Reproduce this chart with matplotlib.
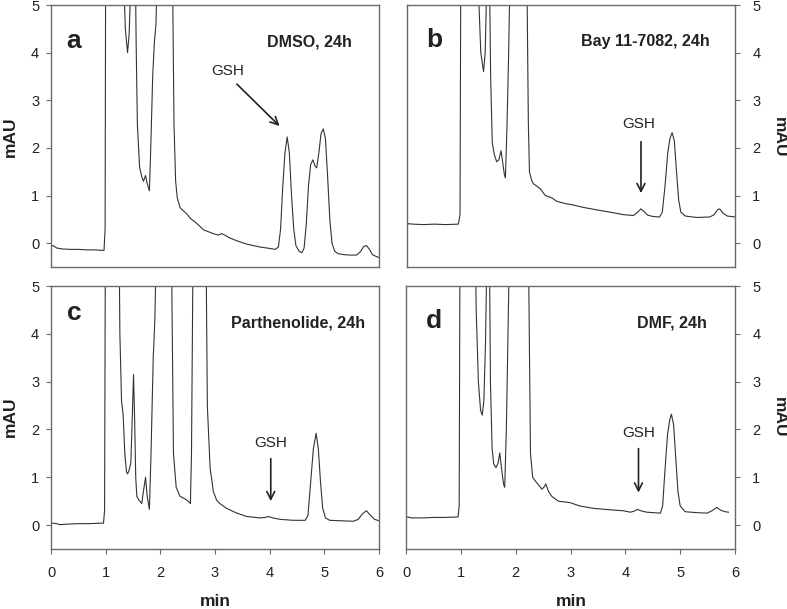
import matplotlib
matplotlib.use("Agg")
import matplotlib.pyplot as plt

plt.rcParams['font.family'] = ['Liberation Sans', 'DejaVu Sans']

# ---- data (time in min, absorbance in mAU; values >5 are off-scale) ----
t_a = [0.00, 0.04, 0.10, 0.20, 0.35, 0.50, 0.65, 0.80, 0.93, 0.97, 0.99, 1.01, 1.20, 1.30, 1.33, 1.36, 1.40, 1.43,
       1.46, 1.50, 1.54, 1.56, 1.58, 1.62, 1.66, 1.69, 1.73, 1.76, 1.80, 1.83, 1.86, 1.89, 1.92, 1.95, 2.00, 2.15,
       2.22, 2.25, 2.28, 2.31, 2.36, 2.42, 2.48, 2.55, 2.63, 2.70, 2.79, 2.88, 2.97, 3.06, 3.12, 3.18, 3.27, 3.40,
       3.58, 3.82, 4.00, 4.10, 4.16, 4.20, 4.24, 4.28, 4.32, 4.36, 4.40, 4.44, 4.48, 4.54, 4.59, 4.63, 4.67, 4.71,
       4.75, 4.79, 4.83, 4.86, 4.90, 4.94, 4.98, 5.02, 5.06, 5.10, 5.14, 5.19, 5.25, 5.35, 5.47, 5.59, 5.66, 5.72,
       5.77, 5.82, 5.88, 5.95, 6.00]
y_a = [-0.07, -0.05, -0.10, -0.12, -0.13, -0.13, -0.14, -0.14, -0.15, -0.15, 0.3, 12, 40, 8, 5.5, 4.5, 4.0, 4.4,
       5.5, 12, 6, 4.0, 2.5, 1.6, 1.4, 1.3, 1.42, 1.25, 1.1, 2.2, 3.5, 4.2, 4.6, 6, 20, 20,
       6, 2.5, 1.3, 0.95, 0.75, 0.68, 0.62, 0.52, 0.45, 0.38, 0.28, 0.24, 0.20, 0.17, 0.20, 0.17, 0.11, 0.05,
       -0.02, -0.08, -0.11, -0.13, -0.08, 0.3, 1.2, 1.9, 2.23, 1.9, 1.0, 0.3, -0.05, -0.17, -0.2, -0.1, 0.4, 1.2,
       1.65, 1.75, 1.62, 1.58, 1.9, 2.3, 2.40, 2.2, 1.4, 0.5, 0.0, -0.17, -0.22, -0.24, -0.25, -0.25, -0.18, -0.07,
       -0.05, -0.12, -0.24, -0.28, -0.30]

t_b = [0.00, 0.02, 0.10, 0.30, 0.50, 0.70, 0.94, 0.97, 0.99, 1.10, 1.28, 1.31, 1.35, 1.40, 1.43, 1.46, 1.49, 1.51,
       1.53, 1.56, 1.60, 1.64, 1.68, 1.72, 1.75, 1.78, 1.80, 1.83, 1.86, 1.89, 1.95, 2.15, 2.19, 2.22, 2.24, 2.28,
       2.31, 2.37, 2.44, 2.53, 2.58, 2.65, 2.74, 2.90, 3.05, 3.23, 3.47, 3.72, 3.96, 4.14, 4.20, 4.28, 4.34, 4.40,
       4.50, 4.62, 4.67, 4.72, 4.77, 4.81, 4.85, 4.89, 4.93, 4.97, 5.01, 5.09, 5.30, 5.54, 5.62, 5.68, 5.72, 5.78,
       5.86, 6.00]
y_b = [0.36, 0.41, 0.40, 0.39, 0.40, 0.39, 0.40, 0.6, 8, 40, 7, 5.2, 4.0, 3.6, 4.0, 5.5, 12, 5.5,
       3.5, 2.1, 1.85, 1.71, 1.75, 1.94, 1.7, 1.45, 1.37, 2.5, 4.0, 6, 20, 20, 6, 2.5, 1.5, 1.32,
       1.25, 1.20, 1.14, 1.00, 0.98, 0.95, 0.88, 0.83, 0.80, 0.75, 0.70, 0.65, 0.60, 0.58, 0.63, 0.72, 0.66, 0.59,
       0.56, 0.55, 0.65, 1.2, 1.9, 2.2, 2.32, 2.15, 1.5, 0.9, 0.65, 0.57, 0.54, 0.55, 0.6, 0.7, 0.72, 0.63,
       0.57, 0.55]

t_c = [0.00, 0.03, 0.10, 0.16, 0.30, 0.50, 0.70, 0.90, 0.96, 0.98, 1.00, 1.10, 1.23, 1.26, 1.29, 1.32, 1.35, 1.38,
       1.40, 1.43, 1.46, 1.48, 1.51, 1.53, 1.55, 1.57, 1.61, 1.66, 1.69, 1.73, 1.76, 1.80, 1.83, 1.87, 1.90, 1.93,
       2.00, 2.17, 2.21, 2.24, 2.29, 2.36, 2.45, 2.51, 2.55, 2.57, 2.60, 2.70, 2.82, 2.86, 2.91, 2.97, 3.03, 3.09,
       3.21, 3.40, 3.58, 3.82, 3.92, 3.98, 4.06, 4.19, 4.43, 4.65, 4.70, 4.75, 4.80, 4.85, 4.89, 4.93, 4.97, 5.02,
       5.10, 5.30, 5.53, 5.62, 5.70, 5.77, 5.83, 5.92, 6.00]
y_c = [0.03, 0.04, 0.03, 0.01, 0.02, 0.03, 0.03, 0.04, 0.04, 0.3, 8, 40, 8, 4.0, 2.6, 2.3, 1.5, 1.12,
       1.07, 1.15, 1.3, 2.0, 3.15, 2.2, 1.0, 0.6, 0.52, 0.45, 0.7, 1.0, 0.6, 0.33, 1.5, 3.5, 4.3, 6,
       20, 20, 5, 1.5, 0.79, 0.6, 0.55, 0.5, 0.45, 1.5, 6, 30, 8, 2.5, 1.2, 0.7, 0.52, 0.45,
       0.35, 0.25, 0.18, 0.15, 0.16, 0.18, 0.15, 0.12, 0.10, 0.10, 0.2, 0.9, 1.6, 1.92, 1.6, 0.9, 0.35, 0.15,
       0.10, 0.09, 0.08, 0.12, 0.24, 0.30, 0.22, 0.12, 0.09]

t_d = [0.00, 0.02, 0.10, 0.30, 0.50, 0.70, 0.95, 0.97, 0.99, 1.10, 1.25, 1.28, 1.32, 1.36, 1.39, 1.42, 1.45, 1.48,
       1.50, 1.52, 1.54, 1.57, 1.60, 1.64, 1.68, 1.71, 1.74, 1.78, 1.80, 1.83, 1.86, 1.89, 1.95, 2.20, 2.24, 2.27,
       2.31, 2.36, 2.41, 2.48, 2.52, 2.55, 2.60, 2.66, 2.78, 2.99, 3.17, 3.42, 3.72, 3.96, 4.09, 4.16, 4.22, 4.28,
       4.39, 4.64, 4.68, 4.72, 4.77, 4.81, 4.84, 4.88, 4.92, 4.96, 5.00, 5.09, 5.30, 5.49, 5.58, 5.67, 5.74, 5.82,
       5.88]
y_d = [0.15, 0.17, 0.15, 0.15, 0.16, 0.16, 0.17, 0.4, 8, 40, 7, 4.5, 3.0, 2.4, 2.3, 2.6, 3.8, 6,
       12, 6, 3.0, 1.6, 1.28, 1.2, 1.3, 1.51, 1.2, 0.85, 0.79, 2.0, 4.0, 6, 20, 20, 5, 1.5,
       1.0, 0.92, 0.85, 0.75, 0.8, 0.86, 0.7, 0.6, 0.5, 0.47, 0.40, 0.35, 0.32, 0.30, 0.27, 0.29, 0.33, 0.30,
       0.27, 0.25, 0.4, 1.1, 1.9, 2.2, 2.32, 2.1, 1.4, 0.7, 0.4, 0.28, 0.26, 0.25, 0.3, 0.37, 0.31, 0.28,
       0.27]

panel_letters = ['a', 'b', 'c', 'd']
panel_titles = ['DMSO, 24h', 'Bay 11-7082, 24h', 'Parthenolide, 24h', 'DMF, 24h']
# GSH annotation: (text x, text y, arrow start x, y, arrow end x, y)
gsh_arrows = [(3.24, 3.62, 3.40, 3.34, 4.18, 2.46),
              (4.23, 2.51, 4.28, 2.13, 4.28, 1.05),
              (4.02, 1.72, 4.02, 1.39, 4.02, 0.50),
              (4.24, 1.93, 4.24, 1.60, 4.24, 0.68)]
x_ticks = [0, 1, 2, 3, 4, 5, 6]
y_ticks = [0, 1, 2, 3, 4, 5]

traces = [(t_a, y_a), (t_b, y_b), (t_c, y_c), (t_d, y_d)]

W, H = 787, 609
fig = plt.figure(figsize=(W / 100, H / 100), dpi=100)

rects = [(51, 5, 379, 267), (407, 5, 735, 267), (51, 286, 379, 549), (406, 286, 735, 549)]
letter_pos = [(0.048, 0.836), (0.058, 0.840), (0.048, 0.871), (0.061, 0.840)]
title_right = [0.918, 0.924, 0.957, 0.915]
spine_col = '#6a6a6a'
line_col = '#333333'

for i, (x0, y0, x1, y1) in enumerate(rects):
    ax = fig.add_axes([x0 / W, 1 - y1 / H, (x1 - x0) / W, (y1 - y0) / H])
    t, y = traces[i]
    ax.plot(t, y, color=line_col, lw=0.8)
    ax.set_xlim(0, 6)
    ax.set_ylim(-0.5, 5)
    for s in ax.spines.values():
        s.set_color(spine_col)
        s.set_linewidth(1.0)
    right = i in (1, 3)
    bottom = i in (2, 3)
    ax.set_yticks(y_ticks)
    ax.set_yticklabels([str(v) for v in y_ticks])
    if right:
        ax.yaxis.tick_right()
        ax.tick_params(axis='y', direction='out', length=3.5, width=0.8, color=spine_col,
                       labelsize=10.5, pad=9, labelcolor='#222222')
    else:
        ax.tick_params(axis='y', direction='out', length=3.5, width=0.8, color=spine_col,
                       labelsize=10.5, pad=5, labelcolor='#222222')
    if bottom:
        ax.set_xticks(x_ticks)
        ax.set_xticklabels([str(v) for v in x_ticks])
        ax.tick_params(axis='x', direction='out', length=3.5, width=0.8, color=spine_col,
                       labelsize=10.5, pad=9, labelcolor='#222222')
    else:
        ax.set_xticks([])
    # panel letter and title
    lx, ly = letter_pos[i]
    ax.text(lx, ly, panel_letters[i], transform=ax.transAxes, fontsize=19, fontweight='bold',
            ha='left', va='baseline', color='#222222')
    ax.text(title_right[i], 0.843, panel_titles[i], transform=ax.transAxes,
            fontsize=11.5, fontweight='bold', ha='right', va='baseline', color='#222222')
    tx, ty, ax0, ay0, ax1, ay1 = gsh_arrows[i]
    ax.text(tx, ty, 'GSH', fontsize=11, ha='center', va='center', color='#222222')
    ax.annotate('', xy=(ax1, ay1), xytext=(ax0, ay0),
                arrowprops=dict(arrowstyle='->', color='#222222', lw=1.2,
                                mutation_scale=14, shrinkA=0, shrinkB=0))

# axis labels
for yc in (137, 417):
    fig.text(10 / W, 1 - yc / H, 'mAU', rotation=90, fontsize=12.5, fontweight='bold',
             ha='center', va='center', color='#222222')
    fig.text(779 / W, 1 - yc / H, 'mAU', rotation=-90, fontsize=12.5, fontweight='bold',
             ha='center', va='center', color='#222222')
for xc in (215, 571):
    fig.text(xc / W, 1 - 601 / H, 'min', fontsize=12.5, fontweight='bold',
             ha='center', va='center', color='#222222')

fig.savefig('out.png', dpi=100)
